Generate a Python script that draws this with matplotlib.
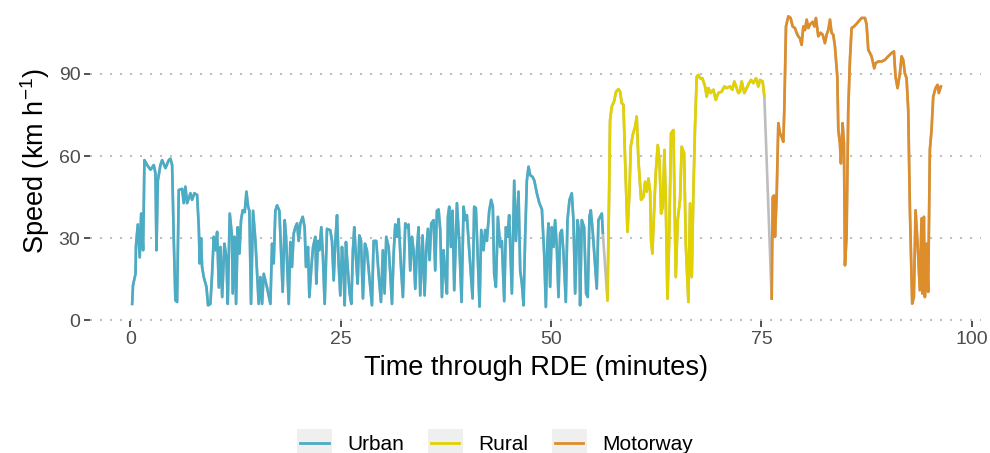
import matplotlib
matplotlib.use("Agg")
import matplotlib.pyplot as plt
from matplotlib.legend_handler import HandlerBase
from matplotlib.patches import Rectangle
from matplotlib.lines import Line2D
import numpy as np

plt.rcParams['font.family'] = ['Liberation Sans', 'DejaVu Sans']
plt.rcParams['mathtext.default'] = 'regular'

# speed trace, minutes / km h-1
urban_t = [0.2, 0.3, 0.6, 0.65, 0.87, 1.1, 1.27, 1.5, 1.66, 1.98, 2.38, 2.77, 2.97, 3.09, 3.25,
           3.56, 3.76, 4.16, 4.55, 4.75, 4.95, 5.15, 5.34, 5.54, 5.74, 6.14, 6.33, 6.53, 6.73,
           7.13, 7.32, 7.6, 7.92, 8.12, 8.23, 8.39, 8.51, 8.71, 9.03, 9.22, 9.5, 9.7, 9.9, 10.1,
           10.3, 10.5, 10.69, 10.9, 11.16, 11.4, 11.56, 11.8,
           12.07, 12.15, 12.39, 12.55, 12.75, 12.95, 13.14, 13.34, 13.58, 13.78, 13.98, 14.13,
           14.33, 14.57, 14.85, 15.24, 15.44, 15.64, 15.84, 16.23, 16.63, 16.83, 17.02, 17.22,
           17.42, 17.7, 18.09, 18.33, 18.49, 18.81, 19.0, 19.2, 19.4, 19.6, 19.8, 19.99, 20.19,
           20.47, 20.7, 20.86, 21.1, 21.26, 21.5, 21.7, 21.97, 22.09, 22.29, 22.45, 22.68, 22.88,
           23.08, 23.36, 23.75, 23.95, 24.15,
           24.35, 24.55, 24.74, 24.94, 25.14, 25.34, 25.46, 25.61, 25.81, 26.05, 26.25, 26.44,
           26.6, 26.8, 27.0, 27.2, 27.4, 27.63, 27.87, 28.1, 28.7, 28.9, 29.21, 29.49, 29.77,
           30.0, 30.2, 30.4, 30.68, 30.88, 31.08, 31.28, 31.47, 31.67, 31.87, 32.15, 32.38,
           32.66, 32.86, 33.05, 33.25, 33.45, 33.65, 33.85, 34.05, 34.24, 34.44, 34.72, 34.96,
           35.15, 35.35, 35.55, 35.75, 36.03, 36.22, 36.42,
           36.62, 36.82, 37.02, 37.21, 37.41, 37.61, 37.73, 37.89, 38.08, 38.28, 38.48, 38.8,
           39.07, 39.35, 39.59, 39.79, 39.98, 40.26, 40.66, 40.85, 41.05, 41.29, 41.49, 41.69,
           41.96, 42.16, 42.36, 42.64, 42.87, 43.07, 43.23, 43.43, 43.67, 43.94, 44.14, 44.42,
           44.62, 44.82, 45.01, 45.33, 45.61, 45.81, 46.12, 46.32, 46.52, 46.72, 46.91, 47.11,
           47.31, 47.51, 47.79, 48.0, 48.3, 48.58, 48.9,
           49.17, 49.37, 49.56, 49.68, 49.88, 50.08, 50.28, 50.47, 50.67, 50.87, 51.07, 51.27,
           51.47, 51.74, 51.94, 52.18, 52.45, 52.65, 52.85, 53.13, 53.33, 53.44, 53.64, 53.92,
           54.16, 54.35, 54.55, 54.71, 54.95, 55.42, 55.62, 55.82, 56.02, 56.14]
urban_v = [6, 12.8, 17, 27, 35, 23, 39, 25.6, 58.5, 56.7, 55, 56.7, 53.7, 25.6, 51,
           56.7, 58.5, 55.6, 58.5, 59, 56.7, 29, 7.3, 6.7, 47.6, 48, 42.8, 48.8, 42.8,
           46.4, 44, 46.4, 45.8, 34, 20.8, 30, 19.5, 15.8, 12.2, 5.5, 6, 17, 30.5, 25.6,
           32.3, 12, 26.8, 8.5, 28, 23, 6, 39,
           30.5, 9.8, 30.5, 6, 34, 24.4, 36.6, 40.2, 39.5, 47, 41.5, 40,
           6, 40, 29, 6, 15.8, 6, 17, 12, 6, 28, 20.8, 40,
           42, 40, 10.4, 36.6, 30.5, 6, 28.6, 19.5, 31.7, 34, 35.4, 29, 35.4,
           37.8, 34, 19.5, 26.8, 8.5, 19.5, 26.8, 30.5, 13.4, 29, 25.6, 34, 23,
           6, 33.4, 32.9, 29, 14.6,
           29, 38.4, 20.8, 9.1, 26.8, 17, 5.5, 28.6, 19.5, 9.8, 6, 25.6,
           34, 23, 13.4, 31, 29, 8, 28, 25.6, 5.5, 29, 29, 17, 6.7,
           25.6, 9.8, 30.5, 26.8, 17, 6, 24.4, 35, 30.5, 37, 19.5, 8.5,
           35.4, 34, 35, 18.2, 30.5, 25.6, 11.5, 25.6, 34, 9.1, 31, 9.1,
           25.6, 33.4, 22, 35.4, 36.6, 18.2, 40,
           40.5, 32.9, 8.5, 25.6, 17, 9.8, 37.8, 41.5, 26.8, 40, 11, 42.8,
           29, 6.7, 41.5, 36.6, 38.4, 25.6, 8, 41.5, 41, 22, 5, 33,
           25.6, 33, 29, 40, 44, 41.5, 17, 12.2, 37.8, 26.8, 29, 7,
           34, 30.5, 38.4, 9.8, 51, 29, 47, 18.2, 13.4, 5.5, 30.5, 51,
           56.1, 53, 52.4, 51, 46.4, 43, 40.5,
           24.4, 4.9, 29, 35.4, 12.2, 34, 26.8, 36.6, 26.8, 8.5, 31.7, 33,
           24.4, 6.7, 36.6, 44, 46.4, 36.6, 9.8, 36.6, 32, 5.5, 36.6, 34,
           9.8, 8.5, 37.8, 40.2, 32, 11.6, 36.6, 37.8, 39, 32]

rural_t = [56.69, 56.89, 57.0, 57.2, 57.48, 57.72, 57.99, 58.19, 58.39, 58.59, 58.79, 59.07,
           59.3, 59.46, 59.7, 59.98, 60.17, 60.37, 60.69, 60.96, 61.16, 61.36, 61.56, 61.76,
           61.88, 62.03, 62.27, 62.43, 62.67, 62.87, 63.07, 63.26, 63.46, 63.62, 63.82, 64.02,
           64.25, 64.53, 64.81, 65.04, 65.32, 65.52, 65.8, 66.0, 66.31, 66.51, 66.71, 66.9,
           67.1, 67.3, 67.5, 67.7, 67.97, 68.29, 68.49, 68.69, 68.96, 69.28, 69.56, 69.87,
           70.27, 70.59, 70.86, 71.26, 71.53, 71.77, 72.05, 72.25, 72.45, 72.64, 72.96, 73.24,
           73.52, 73.75, 74.03, 74.35, 74.62, 74.82, 75.14, 75.34]
rural_v = [7.3, 46.4, 73, 78, 80, 83.5, 84.4, 83.5, 79.3, 78.7, 58.5, 32.3,
           46.4, 63.4, 67.7, 70.7, 74.4, 58.5, 44, 45, 50.6, 47, 51.8, 47,
           29, 24.4, 42.7, 53.7, 64, 58.5, 39, 41.5, 62.2, 44, 7.9, 29,
           68.3, 69.5, 15.8, 36.6, 44, 63.4, 61, 28, 6.7, 42.7, 15.8, 46.4,
           70.7, 89, 89.6, 88.4, 88.4, 85.4, 81.7, 84.8, 83, 84.2, 80.5, 83,
           83.5, 85.4, 84.8, 85.4, 84.2, 87.2, 84.8, 83, 83.5, 87.2, 83, 84.8,
           86.6, 87.8, 86.6, 88.4, 85.4, 87.8, 87.2, 81.7]

motorway_t = [76.21, 76.33, 76.49, 76.6, 76.8, 77.0, 77.2, 77.4, 77.59, 77.71, 77.91, 78.19,
              78.46, 78.7, 78.98, 79.18, 79.37, 79.57, 79.77, 79.97, 80.17, 80.37, 80.56, 80.76,
              81.08, 81.28, 81.47, 81.75, 82.03, 82.27, 82.54, 82.74, 82.94, 83.14, 83.33, 83.53,
              83.73, 84.01, 84.13, 84.32, 84.44, 84.64, 84.8, 84.92, 85.11, 85.31, 85.51, 85.71,
              85.99, 86.22, 86.5, 86.9, 87.3, 87.49, 87.69, 87.89, 88.08, 88.4, 88.56, 88.87,
              89.27, 89.67, 90.06, 90.46, 90.74, 90.93, 91.17, 91.45, 91.65, 91.84, 92.04, 92.24,
              92.44, 92.64, 92.91, 93.11, 93.31, 93.55, 93.82, 94.02, 94.14, 94.3, 94.42, 94.62,
              94.81, 95.01, 95.21, 95.41, 95.69, 95.92, 96.08, 96.32]
motorway_v = [7.9, 45, 45.6, 30.5, 45, 72, 68.3, 67, 65.2, 76.8, 107.3, 111,
              110.4, 107.3, 106.7, 104.9, 103.7, 103, 100.6, 107.3, 106, 109.8, 106.7, 108,
              109, 107.3, 110.4, 103.7, 105, 104.3, 101.2, 104.3, 106, 109.8, 105, 104.3,
              100, 89, 69.5, 64.6, 57.3, 72, 64.6, 20.1, 30.5, 76.8, 95, 106.7,
              107.3, 108, 109, 110.4, 110.4, 108, 98.8, 97.6, 96.4, 92, 93.9, 94.5,
              94.5, 95.1, 96.4, 97.6, 98.2, 89, 84.8, 90.2, 96.4, 95.1, 90.2, 88.4,
              76.8, 40.2, 6.1, 8.5, 40.2, 28, 11, 37.2, 9.8, 37.8, 8.5, 28,
              10.4, 62.2, 69.5, 81.7, 84.8, 86, 83, 85.4]

segments = ['Urban', 'Rural', 'Motorway']
colours = ['#4bacc6', '#e2d200', '#dd8d29']
y_ticks = [0, 30, 60, 90]
x_ticks = [0, 25, 50, 75, 100]


class KeyHandler(HandlerBase):
    # grey key box with a line through it, like ggplot
    def create_artists(self, legend, orig_handle, xdescent, ydescent,
                       width, height, fontsize, trans):
        box = Rectangle((-xdescent, -ydescent), width, height,
                        facecolor='#efefef', edgecolor='none', transform=trans)
        ym = -ydescent + height / 2
        ln = Line2D([-xdescent + 0.1 * width, -xdescent + 0.9 * width], [ym, ym],
                    color=orig_handle.get_color(), lw=2, transform=trans)
        return [box, ln]


fig = plt.figure(figsize=(9.9, 4.53), dpi=100)
ax = fig.add_axes([0.091, 0.291, 0.9, 0.705])

all_t = urban_t + rural_t + motorway_t
all_v = urban_v + rural_v + motorway_v
ax.plot(all_t, all_v, color='#bdbdbd', lw=1.9, zorder=2)

handles = []
for name, col, t, v in zip(segments, colours,
                           [urban_t, rural_t, motorway_t],
                           [urban_v, rural_v, motorway_v]):
    h, = ax.plot(t, v, color=col, lw=1.9, label=name, zorder=3)
    handles.append(h)

ax.set_xlim(-4.8, 101.1)
ax.set_ylim(-0.3, 116.3)
ax.set_xticks(x_ticks)
ax.set_yticks(y_ticks)
ax.yaxis.grid(True, color='#c0c0c0', lw=1.5, linestyle=(0, (1, 3.8)))
ax.set_axisbelow(True)
for s in ax.spines.values():
    s.set_visible(False)
ax.tick_params(axis='both', direction='out', length=4, width=1.2, color='#333333',
               labelcolor='#4d4d4d', labelsize=14, pad=3)

ax.set_xlabel('Time through RDE (minutes)', fontsize=19.5, labelpad=5)
ax.set_ylabel('Speed (km h$^{-1}$)', fontsize=19.5, labelpad=5)

fig.legend(handles=handles, labels=segments, loc='center',
           bbox_to_anchor=(0.5, 10 / 453), ncol=3, frameon=False, fontsize=15,
           handler_map={Line2D: KeyHandler()}, handlelength=1.7, handleheight=1.7,
           handletextpad=0.75, columnspacing=1.1)

fig.savefig('out.png', dpi=100)
